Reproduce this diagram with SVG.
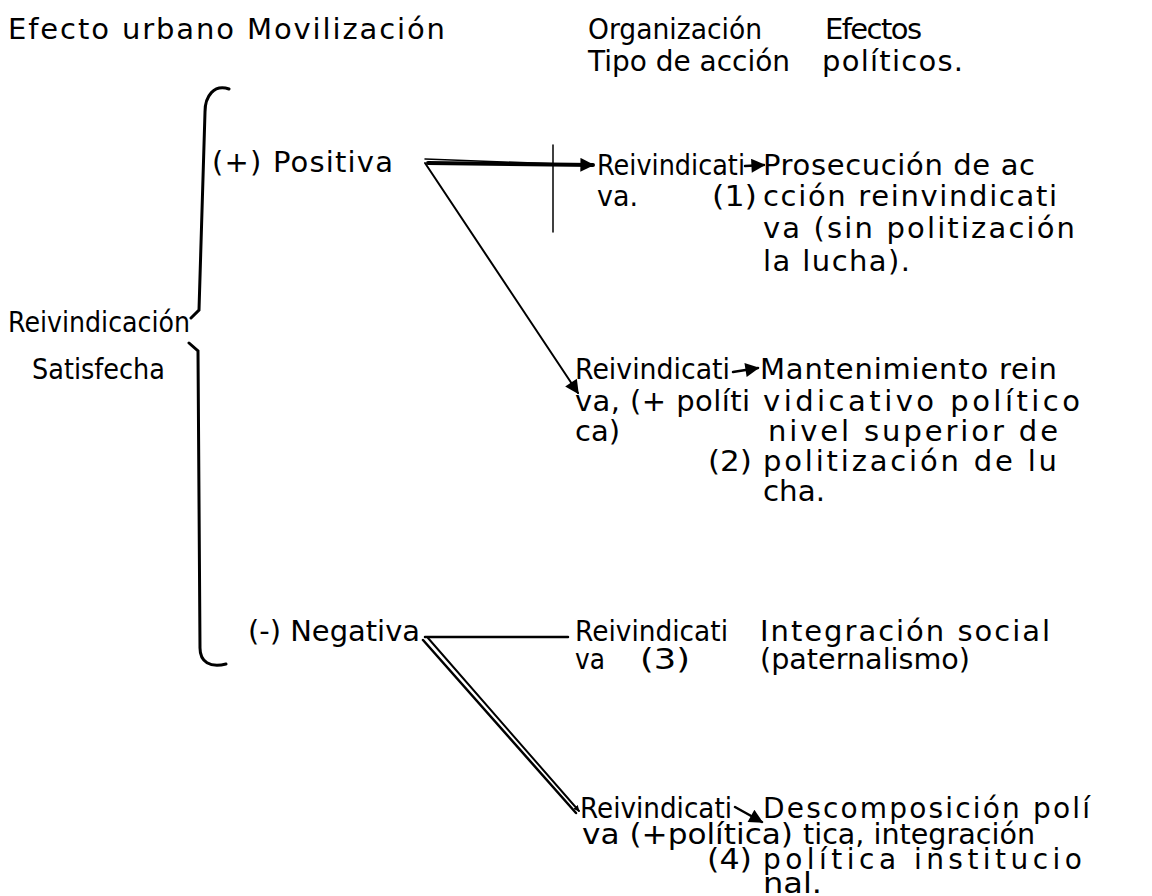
<svg xmlns="http://www.w3.org/2000/svg" width="1152" height="896" viewBox="0 0 1152 896">
<style>
text{font-family:"DejaVu Sans","Liberation Sans",sans-serif;font-size:29px;fill:#000}
.sm{font-size:28px}
.ln{stroke:#000;fill:none;stroke-linecap:round}
</style>
<defs>
<marker id="ah" viewBox="0 0 10 10" refX="9" refY="5" markerWidth="6" markerHeight="6" orient="auto" markerUnits="userSpaceOnUse">
<path d="M0,0 L10,5 L0,10 Z" fill="#000"/>
</marker>
<marker id="ahb" viewBox="0 0 10 10" refX="9" refY="5" markerWidth="16" markerHeight="14" orient="auto" markerUnits="userSpaceOnUse">
<path d="M0,0 L10,5 L0,10 Z" fill="#000"/>
</marker>
</defs>
<rect width="1152" height="896" fill="#fff"/>

<g id="headers">
<text x="8" y="39" textLength="437" lengthAdjust="spacing">Efecto urbano Movilización</text>
<text x="588" y="39" textLength="174" lengthAdjust="spacingAndGlyphs">Organización</text>
<text x="825" y="39" textLength="97" lengthAdjust="spacing">Efectos</text>
<text x="588" y="71" textLength="202" lengthAdjust="spacingAndGlyphs">Tipo de acción</text>
<text x="822" y="71" textLength="141" lengthAdjust="spacing">políticos.</text>
</g>

<g id="root">
<text x="8" y="332" textLength="182" lengthAdjust="spacingAndGlyphs">Reivindicación</text>
<text x="32" y="379" textLength="133" lengthAdjust="spacingAndGlyphs">Satisfecha</text>
<path class="ln" stroke-width="3" d="M229,89 C214,84 205,96 205,112 L199,310 L191,318"/>
<path class="ln" stroke-width="3" d="M189,343 L198,351 L200,648 C200,662 210,668 226,664"/>
</g>

<g id="positiva">
<text x="212" y="172" textLength="181" lengthAdjust="spacing">(+) Positiva</text>
</g>

<g id="negativa">
<text x="248" y="641" textLength="172" lengthAdjust="spacingAndGlyphs">(-) Negativa</text>
</g>

<g id="accion1">
<text x="597" y="175" textLength="148" lengthAdjust="spacingAndGlyphs">Reivindicati</text>
<text x="597" y="206" textLength="41" lengthAdjust="spacingAndGlyphs">va.</text>
<text x="712" y="206" textLength="45" lengthAdjust="spacingAndGlyphs">(1)</text>
</g>
<g id="efecto1">
<text x="763" y="175" textLength="272" lengthAdjust="spacing">Prosecución de ac</text>
<text x="763" y="206" textLength="294" lengthAdjust="spacing">cción reinvindicati</text>
<text x="763" y="238" textLength="312" lengthAdjust="spacing">va (sin politización</text>
<text x="763" y="271" textLength="147" lengthAdjust="spacing">la lucha).</text>
</g>

<g id="accion2">
<text x="575" y="379" textLength="155" lengthAdjust="spacingAndGlyphs">Reivindicati</text>
<text x="575" y="411" textLength="175" lengthAdjust="spacing">va, (+ políti</text>
<text x="575" y="441" textLength="45" lengthAdjust="spacingAndGlyphs">ca)</text>
<text x="708" y="471" textLength="44" lengthAdjust="spacingAndGlyphs">(2)</text>
</g>
<g id="efecto2">
<text x="760" y="379" textLength="297" lengthAdjust="spacing">Mantenimiento rein</text>
<text x="763" y="411" textLength="317" lengthAdjust="spacing">vidicativo político</text>
<text x="768" y="441" textLength="290" lengthAdjust="spacing">nivel superior de</text>
<text x="763" y="471" textLength="294" lengthAdjust="spacing">politización de lu</text>
<text x="763" y="501" textLength="62" lengthAdjust="spacingAndGlyphs">cha.</text>
</g>

<g id="accion3">
<text x="575" y="641" textLength="153" lengthAdjust="spacingAndGlyphs">Reivindicati</text>
<text x="575" y="669" textLength="30" lengthAdjust="spacingAndGlyphs">va</text>
<text x="640" y="669" textLength="50" lengthAdjust="spacingAndGlyphs">(3)</text>
</g>
<g id="efecto3">
<text x="760" y="641" textLength="290" lengthAdjust="spacing">Integración social</text>
<text x="760" y="669" textLength="210" lengthAdjust="spacingAndGlyphs">(paternalismo)</text>
</g>

<g id="accion4">
<text class="sm" x="580" y="818" textLength="152" lengthAdjust="spacingAndGlyphs">Reivindicati</text>
<text class="sm" x="582" y="844" textLength="211" lengthAdjust="spacingAndGlyphs">va (+política)</text>
<text class="sm" x="707" y="869" textLength="45" lengthAdjust="spacingAndGlyphs">(4)</text>
</g>
<g id="efecto4">
<text class="sm" x="763" y="818" textLength="327" lengthAdjust="spacing">Descomposición polí</text>
<text class="sm" x="803" y="844" textLength="232" lengthAdjust="spacingAndGlyphs">tica, integración</text>
<text class="sm" x="763" y="869" textLength="319" lengthAdjust="spacing">política institucio</text>
<text class="sm" x="763" y="893" textLength="59" lengthAdjust="spacingAndGlyphs">nal.</text>
</g>

<g id="connectors">
<path class="ln" stroke-width="1.5" d="M425,159 L560,164"/>
<path class="ln" stroke-width="4" d="M428,163 L593,165" marker-end="url(#ahb)"/>
<path class="ln" stroke-width="1.5" d="M553,145 L553,232"/>
<path class="ln" stroke-width="2" d="M425,163 L578,393" marker-end="url(#ahb)"/>
<path class="ln" stroke-width="2.5" d="M745,166 L764,165" marker-end="url(#ahb)"/>
<path class="ln" stroke-width="2.5" d="M733,372 L758,368" marker-end="url(#ahb)"/>
<path class="ln" stroke-width="2.5" d="M425,637 L568,637"/>
<path class="ln" stroke-width="2.5" d="M423,640 L576,813"/>
<path class="ln" stroke-width="2" d="M428,638 L579,811" marker-end="url(#ah)"/>
<path class="ln" stroke-width="2.5" d="M735,807 L762,822" marker-end="url(#ahb)"/>
</g>
</svg>
